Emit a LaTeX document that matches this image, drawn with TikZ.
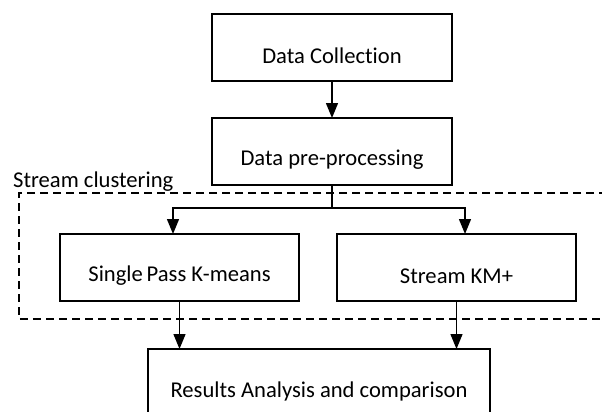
\documentclass[tikz,border=0pt]{standalone}
\usepackage{fontspec}
\setmainfont[Ligatures=NoCommon]{Carlito}
\usetikzlibrary{arrows.meta}
\tikzset{
  box/.style={draw, line width=1.4pt, minimum height=67pt, inner sep=0pt, outer sep=0pt},
  boxtext/.style={font=\fontsize{22.6}{26}\selectfont, anchor=center},
  arr/.style={line width=1.4pt, -{Triangle[length=15pt,width=12pt]}},
  ln/.style={line width=1.4pt},
  dashbox/.style={line width=1.4pt, dash pattern=on 8pt off 5pt}
}
\begin{document}
\begin{tikzpicture}[x=1pt,y=-1pt]
\useasboundingbox (0,0) rectangle (602,412);
% dashed region
\draw[dashbox] (620,193) -- (19,193) -- (19,319) -- (620,319);
\node[font=\fontsize{22.6}{26}\selectfont, anchor=base west, inner sep=0pt] (sclabel) at (13,187) {Stream clustering};
% boxes
\node[box, minimum width=240pt] (dc) at (332,47.5) {};
\node[box, minimum width=240pt] (pp) at (332,151.5) {};
\node[box, minimum width=239pt] (sp) at (179.5,267.5) {};
\node[box, minimum width=239pt] (km) at (456.5,267.5) {};
\node[box, minimum width=342pt, minimum height=68pt] (ra) at (319,383) {};
% texts
\node[boxtext] (dct) at ([yshift=-8.5pt]dc.center) {Data Collection};
\node[boxtext] (ppt) at ([yshift=-8.5pt]pp.center) {Data pre-processing};
\node[boxtext] (spt) at ([yshift=-8.5pt]sp.center) {Single\,Pass K-means};
\node[boxtext] (kmt) at ([yshift=-8.5pt]km.center) {Stream KM+};
\node[boxtext] (rat) at ([yshift=-8.5pt]ra.center) {Results Analysis and comparison};
% connectors
\draw[arr] (dc.south) -- (pp.north);
\coordinate (j) at (332,208);
\coordinate (jl) at (173,208);
\coordinate (jr) at (465,208);
\draw[ln] (pp.south) -- (j);
\draw[arr] (j) -- (jl) -- (jl |- sp.north);
\draw[arr] (j) -- (jr) -- (jr |- km.north);
\draw[arr] (sp.south) -- (sp.south |- ra.north);
\draw[arr] (km.south) -- (km.south |- ra.north);
\end{tikzpicture}
\end{document}
